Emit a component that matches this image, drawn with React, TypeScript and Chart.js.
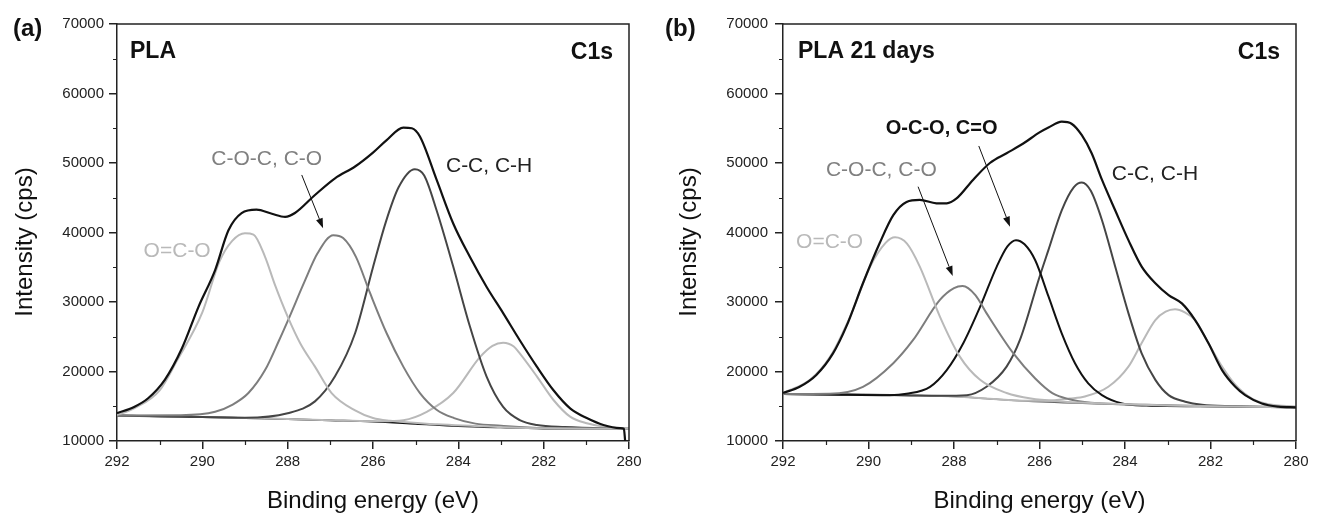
import React, { useEffect, useRef } from 'react';
import { Chart, registerables } from 'chart.js';

Chart.register(...registerables);

// ---------- Shared axis values ----------
const xMajorTicks = [292, 290, 288, 286, 284, 282, 280];
const xMinorTicks = [291, 289, 287, 285, 283, 281];
const yMajorTicks = [10000, 20000, 30000, 40000, 50000, 60000, 70000];
const yMinorTicks = [15000, 25000, 35000, 45000, 55000, 65000];

// ---------- Panel (a): PLA ----------
const envA_E = [292.0, 291.6, 291.27, 290.88, 290.48, 290.09, 289.7, 289.39, 289.08, 288.73, 288.37, 288.06, 287.83, 287.36, 286.89, 286.42, 286.0, 285.68, 285.29, 285.09, 284.9, 284.51, 284.12, 283.73, 283.34, 282.95, 282.56, 282.16, 281.77, 281.38, 280.99, 280.6, 280.21, 280.12, 280.09];
const envA_I = [14000, 14900, 16150, 18800, 23300, 29300, 34600, 40300, 42800, 43300, 42700, 42250, 42800, 45400, 47800, 49500, 51500, 53300, 55100, 55000, 53800, 47600, 41300, 36500, 32200, 28400, 24500, 20700, 17300, 14700, 13300, 12300, 11850, 11750, 10000];

const ocoA_E = [292.0, 291.6, 291.0, 290.6, 290.0, 289.6, 289.3, 289.0, 288.8, 288.53, 288.3, 288.0, 287.7, 287.36, 286.97, 286.42, 286.0, 285.6, 284.5, 283.0, 282.0, 280.0];
const ocoA_I = [13750, 14700, 17300, 21500, 28500, 35800, 38800, 39900, 39700, 36500, 32500, 27900, 24000, 20700, 16900, 14400, 13300, 12900, 12400, 12000, 11820, 11760];

const cocA_E = [292.0, 290.5, 289.7, 289.3, 288.92, 288.53, 288.2, 287.99, 287.6, 287.3, 286.93, 286.7, 286.4, 286.07, 285.68, 285.29, 284.9, 284.51, 284.1, 283.6, 283.0, 282.0, 280.0];
const cocA_I = [13660, 13700, 14200, 15200, 16900, 20200, 24500, 27400, 33000, 37000, 39600, 39200, 36500, 31300, 25500, 20700, 16900, 14500, 13300, 12500, 12200, 11850, 11760];

const ccA_E = [292.0, 290.5, 289.0, 288.0, 287.36, 286.89, 286.42, 286.0, 285.7, 285.4, 285.02, 284.8, 284.51, 284.12, 283.73, 283.34, 282.95, 282.56, 282.16, 281.5, 280.5, 280.0];
const ccA_I = [13660, 13500, 13350, 14000, 15700, 19300, 25500, 35000, 41500, 46500, 49100, 48200, 43200, 35100, 26500, 19300, 14900, 13000, 12300, 12000, 11800, 11760];

const lowA_E = [292.0, 290.0, 288.0, 287.0, 286.5, 285.8, 285.29, 284.74, 284.12, 283.49, 283.2, 282.95, 282.7, 282.56, 282.16, 281.77, 281.38, 280.99, 280.5, 280.2, 280.0];
const lowA_I = [13660, 13460, 13160, 12990, 12900, 12850, 13000, 14200, 16900, 22100, 23700, 24150, 23600, 22600, 19300, 15900, 13500, 12550, 12000, 11800, 11760];

const bgA_E = [292.0, 291.0, 290.0, 289.0, 288.0, 287.0, 286.0, 285.0, 284.0, 283.0, 282.0, 281.0, 280.0];
const bgA_I = [13650, 13550, 13450, 13300, 13150, 12980, 12800, 12480, 12150, 11950, 11800, 11770, 11750];

// ---------- Panel (b): PLA 21 days ----------
const envB_E = [292.0, 291.61, 291.22, 290.83, 290.52, 290.13, 289.74, 289.42, 289.11, 288.8, 288.41, 288.17, 287.94, 287.55, 287.16, 286.77, 286.38, 286.0, 285.79, 285.48, 285.25, 285.01, 284.78, 284.54, 284.23, 283.92, 283.61, 283.29, 282.98, 282.67, 282.36, 282.05, 281.73, 281.42, 281.19, 280.8, 280.41, 280.0];
const envB_I = [16900, 17800, 19500, 22600, 26450, 32700, 38450, 42500, 44400, 44700, 44200, 44200, 44900, 47600, 50000, 51400, 52800, 54400, 55100, 55950, 55650, 54000, 51400, 47600, 43200, 38900, 35100, 32700, 31000, 29800, 27400, 24100, 20200, 17800, 16600, 15400, 14950, 14850];

const ocoB_E = [292.0, 291.37, 290.9, 290.43, 289.96, 289.6, 289.38, 289.1, 288.8, 288.33, 287.86, 287.39, 286.77, 286.2, 285.5, 284.5, 283.0, 281.5, 280.0];
const ocoB_I = [16900, 18800, 22100, 27900, 35100, 38500, 39300, 38400, 35100, 27900, 22100, 18800, 16900, 16100, 15700, 15400, 15100, 14950, 14860];

const cocB_E = [292.0, 290.91, 290.13, 289.42, 288.96, 288.33, 288.0, 287.8, 287.5, 287.24, 286.61, 286.1, 285.7, 285.3, 284.8, 283.5, 282.0, 280.0];
const cocB_I = [16760, 16800, 17800, 21200, 24500, 30300, 32000, 32300, 31000, 28400, 22600, 19000, 16900, 16000, 15500, 15200, 14990, 14860];

const ococB_E = [292.0, 291.0, 289.5, 289.11, 288.56, 288.17, 287.78, 287.39, 287.0, 286.75, 286.55, 286.35, 286.1, 285.79, 285.48, 285.17, 284.86, 284.54, 284.07, 283.5, 282.0, 280.0];
const ococB_I = [16760, 16700, 16600, 16800, 17800, 20200, 24100, 29300, 35100, 38000, 38900, 38300, 36000, 30800, 25500, 21200, 18300, 16600, 15400, 15100, 14990, 14860];

const ccB_E = [292.0, 290.0, 289.0, 288.3, 287.7, 287.24, 286.77, 286.46, 286.0, 285.79, 285.48, 285.2, 285.01, 284.8, 284.54, 284.23, 283.92, 283.61, 283.29, 282.98, 282.59, 282.2, 281.5, 280.0];
const ccB_I = [16760, 16660, 16550, 16500, 16600, 17800, 20700, 24500, 33600, 37500, 43200, 46500, 47200, 46000, 41800, 35100, 28400, 22600, 18800, 16600, 15650, 15200, 15000, 14860];

const lowB_E = [292.0, 290.0, 288.0, 287.0, 286.3, 285.8, 285.3, 284.94, 284.39, 283.92, 283.61, 283.29, 283.05, 282.83, 282.6, 282.36, 282.05, 281.73, 281.42, 281.03, 280.64, 280.0];
const lowB_I = [16760, 16660, 16410, 16010, 15800, 15800, 16100, 16400, 17800, 20700, 24100, 27400, 28600, 28950, 28500, 27400, 24100, 20700, 18100, 16100, 15300, 14950];

const bgB_E = [292.0, 290.0, 288.0, 287.0, 286.0, 284.0, 282.0, 280.0];
const bgB_I = [16750, 16650, 16400, 16000, 15650, 15250, 14980, 14850];

// ---------- Styles ----------
const FONT = '"Liberation Sans", Arial, Helvetica, sans-serif';
const C_BLACK = '#111111';
const C_LIGHT = '#b9b9b9';
const C_MID = '#7d7d7d';
const C_DARK = '#454545';
const C_AXIS = '#222222';

type Series = { e: number[]; i: number[]; color: string; width: number };
type Label = { text: string; x: number; y: number; align: CanvasTextAlign; color: string; bold: boolean; size: number };
type Arrow = { x1: number; y1: number; x2: number; y2: number };
type PanelSpec = {
  left: number;
  width: number;
  yWidth: number;
  padRight: number;
  yLabelPad: number;
  yTitleX: number;
  letter: string;
  letterX: number;
  name: string;
  nameDx: number;
  c1sDx: number;
  series: Series[];
  labels: Label[];
  arrows: Arrow[];
};

const panelA: PanelSpec = {
  left: 0,
  width: 658,
  yWidth: 117,
  padRight: 29,
  yLabelPad: 5,
  yTitleX: 25,
  letter: '(a)',
  letterX: 13,
  name: 'PLA',
  nameDx: 13,
  c1sDx: 16,
  series: [
    { e: envA_E, i: envA_I, color: C_BLACK, width: 2.2 },
    { e: ocoA_E, i: ocoA_I, color: C_LIGHT, width: 2 },
    { e: cocA_E, i: cocA_I, color: C_MID, width: 2 },
    { e: ccA_E, i: ccA_I, color: C_DARK, width: 2 },
    { e: lowA_E, i: lowA_I, color: C_LIGHT, width: 2 },
    { e: bgA_E, i: bgA_I, color: C_BLACK, width: 1.8 },
  ],
  labels: [
    { text: 'C-O-C, C-O', x: 288.49, y: 49700, align: 'center', color: '#808080', bold: false, size: 21 },
    { text: 'O=C-O', x: 290.59, y: 36520, align: 'center', color: C_LIGHT, bold: false, size: 21 },
    { text: 'C-C, C-H', x: 284.29, y: 48750, align: 'left', color: '#222222', bold: false, size: 21 },
  ],
  arrows: [{ x1: 287.67, y1: 48280, x2: 287.17, y2: 40610 }],
};

const panelB: PanelSpec = {
  left: 658,
  width: 659,
  yWidth: 125,
  padRight: 21,
  yLabelPad: 7,
  yTitleX: 31,
  letter: '(b)',
  letterX: 7,
  name: 'PLA 21 days',
  nameDx: 15,
  c1sDx: 16,
  series: [
    { e: envB_E, i: envB_I, color: C_BLACK, width: 2.2 },
    { e: ocoB_E, i: ocoB_I, color: C_LIGHT, width: 2 },
    { e: cocB_E, i: cocB_I, color: C_MID, width: 2 },
    { e: ococB_E, i: ococB_I, color: C_BLACK, width: 2 },
    { e: ccB_E, i: ccB_I, color: C_DARK, width: 2 },
    { e: lowB_E, i: lowB_I, color: C_LIGHT, width: 2 },
    { e: bgB_E, i: bgB_I, color: '#6a6a6a', width: 1.5 },
  ],
  labels: [
    { text: 'O-C-O, C=O', x: 288.29, y: 54180, align: 'center', color: '#111111', bold: true, size: 20 },
    { text: 'C-O-C, C-O', x: 289.7, y: 48130, align: 'center', color: '#808080', bold: false, size: 21 },
    { text: 'O=C-O', x: 290.91, y: 37820, align: 'center', color: C_LIGHT, bold: false, size: 21 },
    { text: 'C-C, C-H', x: 284.31, y: 47560, align: 'left', color: '#222222', bold: false, size: 21 },
  ],
  arrows: [
    { x1: 288.84, y1: 46590, x2: 288.03, y2: 33740 },
    { x1: 287.42, y1: 52450, x2: 286.69, y2: 40840 },
  ],
};

function toPoints(e: number[], i: number[]) {
  return e.map((x, k) => ({ x, y: i[k] }));
}

function makeDecor(p: PanelSpec) {
  return {
    id: 'decor' + p.letter,
    afterDraw(chart: any) {
      const ctx: CanvasRenderingContext2D = chart.ctx;
      const xs = chart.scales.x;
      const ys = chart.scales.y;
      const a = chart.chartArea;
      ctx.save();
      // frame: top and right
      ctx.strokeStyle = C_AXIS;
      ctx.lineWidth = 1.5;
      ctx.beginPath();
      ctx.moveTo(a.left, a.top);
      ctx.lineTo(a.right, a.top);
      ctx.lineTo(a.right, a.bottom);
      ctx.stroke();
      // minor ticks
      ctx.lineWidth = 1.2;
      ctx.beginPath();
      xMinorTicks.forEach((v) => {
        const px = Math.round(xs.getPixelForValue(v)) + 0.5;
        ctx.moveTo(px, a.bottom);
        ctx.lineTo(px, a.bottom + 4);
      });
      yMinorTicks.forEach((v) => {
        const py = Math.round(ys.getPixelForValue(v)) + 0.5;
        ctx.moveTo(a.left, py);
        ctx.lineTo(a.left - 4, py);
      });
      ctx.stroke();

      // arrows
      ctx.strokeStyle = '#111';
      ctx.fillStyle = '#111';
      ctx.lineWidth = 1;
      p.arrows.forEach((ar) => {
        const x1 = xs.getPixelForValue(ar.x1);
        const y1 = ys.getPixelForValue(ar.y1);
        const x2 = xs.getPixelForValue(ar.x2);
        const y2 = ys.getPixelForValue(ar.y2);
        const ang = Math.atan2(y2 - y1, x2 - x1);
        const hl = 10;
        const hw = 3.5;
        const bx = x2 - hl * Math.cos(ang);
        const by = y2 - hl * Math.sin(ang);
        ctx.beginPath();
        ctx.moveTo(x1, y1);
        ctx.lineTo(bx, by);
        ctx.stroke();
        ctx.beginPath();
        ctx.moveTo(x2, y2);
        ctx.lineTo(bx + hw * Math.sin(ang), by - hw * Math.cos(ang));
        ctx.lineTo(bx - hw * Math.sin(ang), by + hw * Math.cos(ang));
        ctx.closePath();
        ctx.fill();
      });

      // peak labels
      ctx.textBaseline = 'alphabetic';
      p.labels.forEach((lb) => {
        ctx.font = `${lb.bold ? 'bold ' : ''}${lb.size}px ${FONT}`;
        ctx.fillStyle = lb.color;
        ctx.textAlign = lb.align;
        ctx.fillText(lb.text, xs.getPixelForValue(lb.x), ys.getPixelForValue(lb.y));
      });

      // panel texts
      ctx.fillStyle = '#111';
      ctx.font = `bold 23px ${FONT}`;
      ctx.textAlign = 'left';
      ctx.fillText(p.name, a.left + p.nameDx, 58);
      ctx.textAlign = 'right';
      ctx.fillText('C1s', a.right - p.c1sDx, 59);
      ctx.font = `bold 24px ${FONT}`;
      ctx.textAlign = 'left';
      ctx.fillText(p.letter, p.letterX, 36);

      // y axis title
      ctx.save();
      ctx.translate(p.yTitleX, 242);
      ctx.rotate(-Math.PI / 2);
      ctx.font = `24px ${FONT}`;
      ctx.fillStyle = '#111';
      ctx.textAlign = 'center';
      ctx.textBaseline = 'middle';
      ctx.fillText('Intensity (cps)', 0, 0);
      ctx.restore();

      ctx.restore();
    },
  };
}

function buildConfig(p: PanelSpec): any {
  return {
    type: 'line',
    data: {
      datasets: p.series.map((s) => ({
        data: toPoints(s.e, s.i),
        borderColor: s.color,
        borderWidth: s.width,
        pointRadius: 0,
        fill: false,
        cubicInterpolationMode: 'monotone',
      })),
    },
    options: {
      animation: false,
      responsive: false,
      devicePixelRatio: 1,
      events: [],
      layout: { padding: { top: 24, right: p.padRight, left: 0, bottom: 0 } },
      plugins: { legend: { display: false }, tooltip: { enabled: false } },
      scales: {
        x: {
          type: 'linear',
          min: 280,
          max: 292,
          reverse: true,
          afterBuildTicks: (s: any) => {
            s.ticks = xMajorTicks.map((v) => ({ value: v }));
          },
          afterFit: (s: any) => {
            s.height = 72;
          },
          ticks: {
            color: '#222',
            font: { family: FONT, size: 15 },
            padding: 4,
            maxRotation: 0,
            callback: (v: number) => String(v),
          },
          grid: { drawOnChartArea: false, drawTicks: true, tickLength: 8, color: C_AXIS, lineWidth: 1.5 },
          border: { display: true, color: C_AXIS, width: 1.5 },
          title: {
            display: true,
            text: 'Binding energy (eV)',
            color: '#111',
            font: { family: FONT, size: 24, lineHeight: 1 },
            padding: 0,
          },
        },
        y: {
          type: 'linear',
          min: 10000,
          max: 70000,
          afterBuildTicks: (s: any) => {
            s.ticks = yMajorTicks.map((v) => ({ value: v }));
          },
          afterFit: (s: any) => {
            s.width = p.yWidth;
          },
          ticks: {
            color: '#222',
            font: { family: FONT, size: 15 },
            padding: p.yLabelPad,
            callback: (v: number) => String(v),
          },
          grid: { drawOnChartArea: false, drawTicks: true, tickLength: 8, color: C_AXIS, lineWidth: 1.5 },
          border: { display: true, color: C_AXIS, width: 1.5 },
        },
      },
    },
    plugins: [makeDecor(p)],
  };
}

function Panel({ spec }: { spec: PanelSpec }) {
  const ref = useRef<HTMLCanvasElement>(null);
  useEffect(() => {
    if (!ref.current) return;
    const chart = new Chart(ref.current, buildConfig(spec));
    return () => chart.destroy();
  }, [spec]);
  return (
    <canvas
      ref={ref}
      width={spec.width}
      height={513}
      style={{ position: 'absolute', left: spec.left, top: 0, width: spec.width, height: 513 }}
    />
  );
}

export default function App() {
  return (
    <div style={{ position: 'fixed', left: 0, top: 0, width: 1317, height: 513, background: '#ffffff', overflow: 'hidden' }}>
      <Panel spec={panelA} />
      <Panel spec={panelB} />
    </div>
  );
}
